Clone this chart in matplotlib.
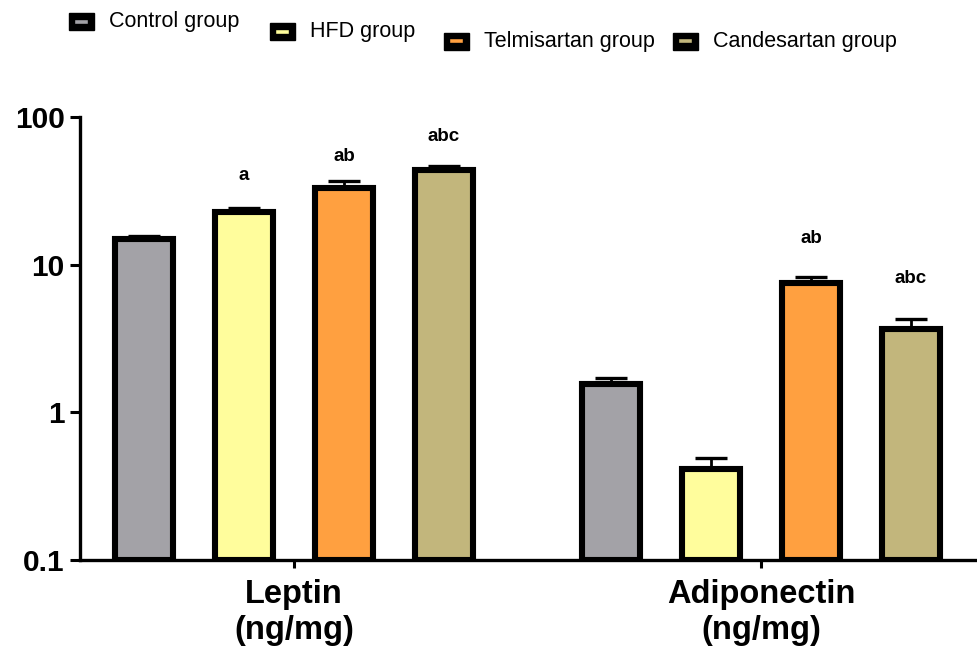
import matplotlib
matplotlib.use("Agg")
import matplotlib.pyplot as plt
from matplotlib.patches import Rectangle
from matplotlib.lines import Line2D
import numpy as np

plt.rcParams['font.family'] = ['Liberation Sans', 'DejaVu Sans']

# ---- data ----
groups = ["Control group", "HFD group", "Telmisartan group", "Candesartan group"]
colors = ["#a3a2a7", "#fffd9c", "#ffa040", "#c2b67c"]
measures = ["Leptin\n(ng/mg)", "Adiponectin\n(ng/mg)"]

leptin_mean = [15.0, 22.8, 33.0, 44.0]
leptin_err = [0.6, 1.5, 3.6, 2.8]
adipo_mean = [1.55, 0.415, 7.5, 3.67]
adipo_err = [0.16, 0.075, 0.76, 0.6]

leptin_sig = ["", "a", "ab", "abc"]
adipo_sig = ["", "", "ab", "abc"]

means = [leptin_mean, adipo_mean]
errs = [leptin_err, adipo_err]
sigs = [leptin_sig, adipo_sig]

# ---- layout ----
W, H = 978, 648
fig = plt.figure(figsize=(W / 100, H / 100), dpi=100)
ax = fig.add_axes([80 / W, (H - 560) / H, 898 / W, 443 / H])

group_start = [0.0, 4.67]
bar_w = 0.58
sig_pad_px = [[0, 28, 20, 25], [0, 0, 34, 36]]

for gi in range(len(measures)):
    xs = group_start[gi] + np.arange(len(groups))
    ax.bar(xs, np.array(means[gi]) - 0.1, bottom=0.1, width=bar_w,
           color=colors, edgecolor="black", linewidth=4.4, zorder=3)
    ax.errorbar(xs, means[gi], yerr=[np.zeros(len(groups)), errs[gi]],
                fmt="none", ecolor="black", elinewidth=2.0, capsize=11.5,
                capthick=2.4, zorder=2)
    for i, s in enumerate(sigs[gi]):
        if s:
            ax.annotate(s, (xs[i], means[gi][i] + errs[gi][i]),
                        xytext=(0, sig_pad_px[gi][i] * 0.72),
                        textcoords="offset points", ha="center",
                        va="baseline", fontsize=13.5, fontweight="bold")

ax.set_yscale("log")
ax.set_ylim(0.1, 100)
ax.set_xlim(-0.64, 8.34)
ax.set_yticks([0.1, 1, 10, 100])
ax.set_yticklabels(["0.1", "1", "10", "100"])
ax.yaxis.set_minor_locator(matplotlib.ticker.NullLocator())
centers = [group_start[g] + 1.5 for g in range(len(measures))]
ax.set_xticks(centers)
ax.set_xticklabels(measures)

for side in ["top", "right"]:
    ax.spines[side].set_visible(False)
for side in ["left", "bottom"]:
    ax.spines[side].set_linewidth(2.4)
ax.tick_params(axis="y", length=7, width=2.2, pad=4, labelsize=21.5)
ax.tick_params(axis="x", length=6, width=2.2, pad=8, labelsize=23.5)
for lab in ax.get_yticklabels() + ax.get_xticklabels():
    lab.set_fontweight("bold")

# ---- legend (staggered entries along the top) ----
def fx(px):
    return px / W

def fy(py):
    return 1 - py / H

legend_xy = [(69, 21.5), (270, 31.5), (444, 41), (673, 41)]
for (lx, ly), name, c in zip(legend_xy, groups, colors):
    fig.add_artist(Rectangle((fx(lx), fy(ly + 8.5)), 25 / W, 17 / H,
                             transform=fig.transFigure, facecolor="black",
                             edgecolor="black"))
    fig.add_artist(Line2D([fx(lx + 8), fx(lx + 17)], [fy(ly), fy(ly)],
                          transform=fig.transFigure, color=c, linewidth=2.6))
    fig.text(fx(lx + 40), fy(ly), name, fontsize=15.5, va="center", ha="left")

fig.savefig("out.png", dpi=100)
